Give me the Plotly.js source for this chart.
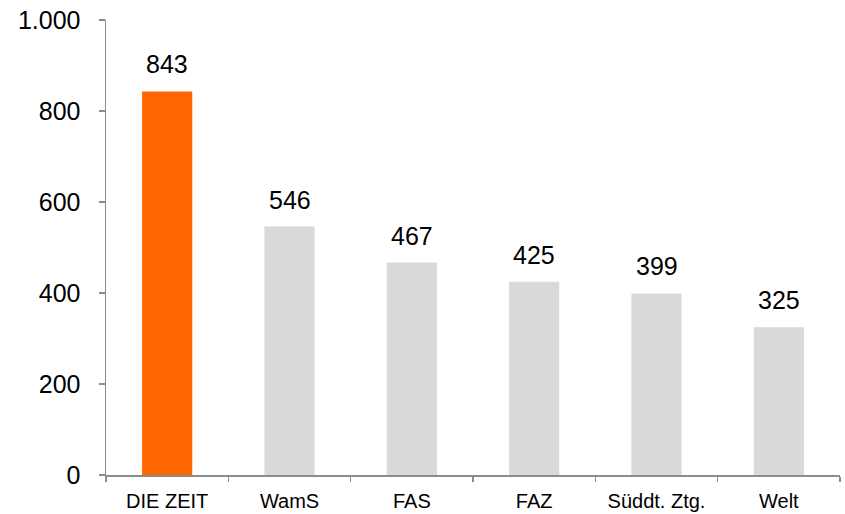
<!DOCTYPE html>
<html>
<head>
<meta charset="utf-8">
<script src="https://cdn.plot.ly/plotly-3.0.1.min.js"></script>
<style>html,body{margin:0;padding:0;background:#fff;}#chart{width:845px;height:514px;}</style>
</head>
<body>
<div id="chart"></div>
<script>
const categories = ["DIE ZEIT", "WamS", "FAS", "FAZ", "Süddt. Ztg.", "Welt"];
const values = [843, 546, 467, 425, 399, 325];
const barColors = ["#FF6600", "#D9D9D9", "#D9D9D9", "#D9D9D9", "#D9D9D9", "#D9D9D9"];
const yTicks = [0, 200, 400, 600, 800, 1000];

const font = "Liberation Sans, Arial, sans-serif";

const trace = {
  type: "bar",
  x: categories,
  y: values,
  marker: {color: barColors, line: {width: 0}},
  hoverinfo: "none"
};

const annotations = categories.map((c, i) => ({
  x: c, y: values[i], xref: "x", yref: "y",
  text: String(values[i]), showarrow: false,
  yanchor: "bottom", yshift: 11,
  font: {family: font, size: 25, color: "#000"}
}));

const layout = {
  width: 845, height: 514,
  margin: {l: 106, r: 5, t: 20, b: 39},
  paper_bgcolor: "#fff", plot_bgcolor: "#fff",
  separators: ",.",
  showlegend: false,
  bargap: 0.59,
  xaxis: {
    type: "category",
    showline: true, linecolor: "#8C8C8C", linewidth: 1.5,
    ticks: "outside", tickson: "boundaries", ticklen: 5, tickcolor: "#8C8C8C", tickwidth: 1.5,
    showgrid: false, zeroline: false,
    tickfont: {family: font, size: 20, color: "#000"},
    ticklabelstandoff: 7
  },
  yaxis: {
    range: [0, 1000],
    tickvals: yTicks,
    tickformat: ",d",
    showline: true, linecolor: "#8C8C8C", linewidth: 1.5,
    ticks: "outside", ticklen: 6, tickcolor: "#8C8C8C", tickwidth: 1.5,
    showgrid: false, zeroline: false,
    tickfont: {family: font, size: 25, color: "#000"},
    ticklabelstandoff: 13
  },
  annotations: annotations
};

Plotly.newPlot("chart", [trace], layout, {displayModeBar: false, staticPlot: true});
</script>
</body>
</html>
